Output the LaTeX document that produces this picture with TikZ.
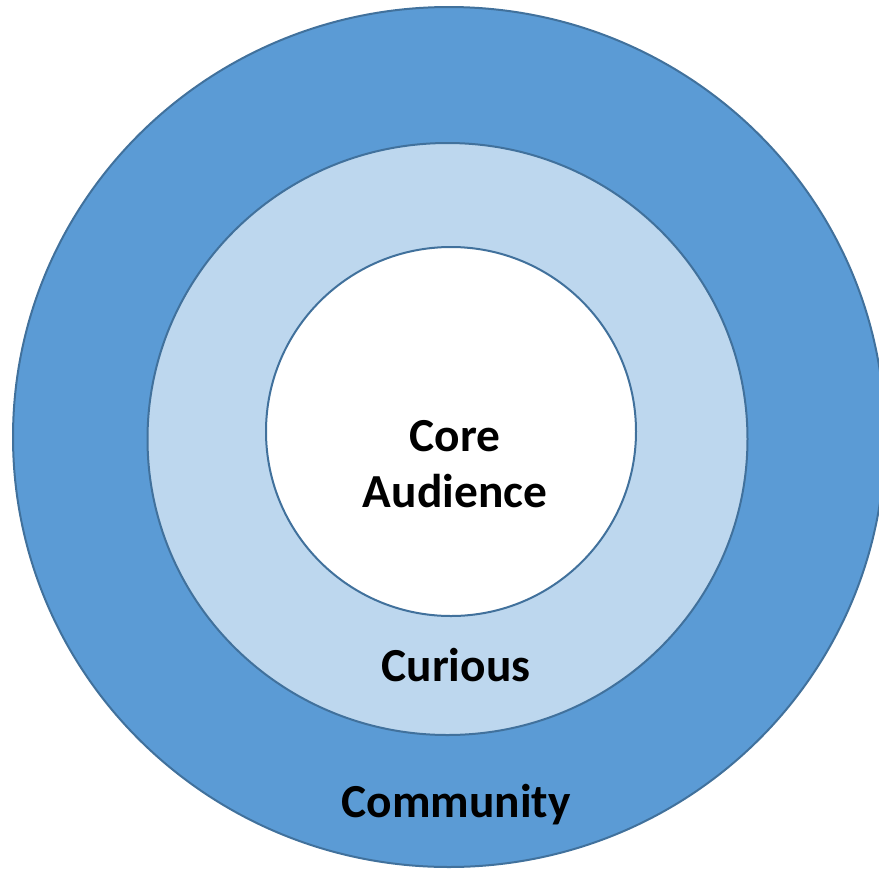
\documentclass[tikz,border=0pt]{standalone}
\usepackage{fontspec}
\setmainfont{Carlito}

\definecolor{ringdark}{HTML}{5B9BD5}
\definecolor{ringlight}{HTML}{BDD7EE}
\definecolor{ringline}{HTML}{41719C}

\tikzset{
	ring/.style={draw=ringline, line width=1pt},
	ringlabel/.style={font=\bfseries\fontsize{23.7}{28}\selectfont, text=black, align=center, inner sep=0pt}
}

\begin{document}
\begin{tikzpicture}[x=0.5pt, y=-0.5pt]

				\useasboundingbox (0,0) rectangle (879,869);
				\clip (0,0) rectangle (879,869);

				\draw[ring, fill=ringdark] (449,437) ellipse [x radius=218pt, y radius=215pt];
				\draw[ring, fill=ringlight] (447.5,439) ellipse [x radius=150pt, y radius=148pt];
				\draw[ring, fill=white] (451,431.5) ellipse [x radius=92.5pt, y radius=92.25pt];

				\node[ringlabel] (kern) at (455,464) {Core\\Audience};
				\node[ringlabel, anchor=base] (nieuwsgierig) at (456,681) {Curious};
				\node[ringlabel, anchor=base] (gemeenschap) at (456,817) {Community};

			\end{tikzpicture}
\end{document}
